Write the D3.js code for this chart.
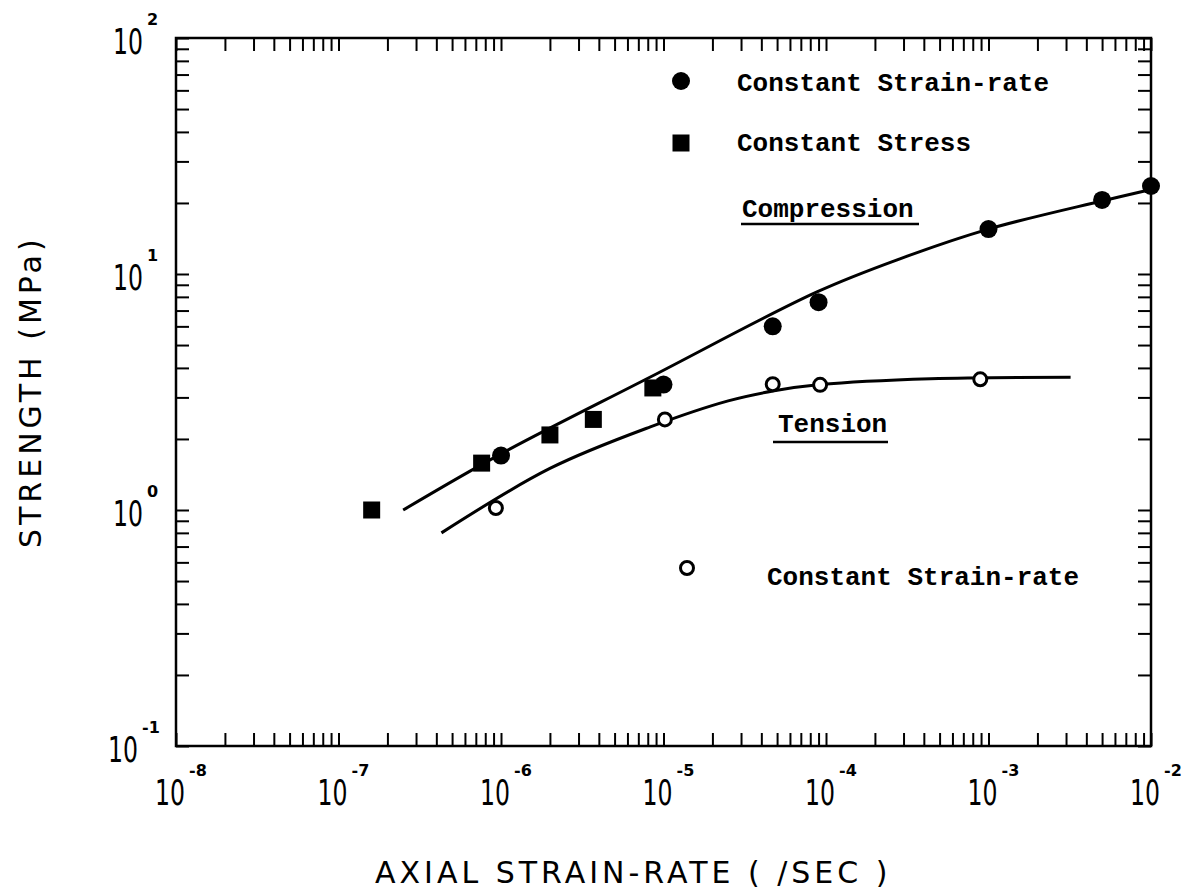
<!DOCTYPE html>
<html>
<head>
<meta charset="utf-8">
<script src="https://cdn.jsdelivr.net/npm/d3@7"></script>
<style>
body { margin: 0; background: #fff; }
</style>
</head>
<body>
<div id="chart"></div>
<script>
// Values (strain-rate in /sec, strength in MPa)
var compCircleRate = [1e-6, 1e-5, 4.7e-5, 9e-5, 1e-3, 5e-3, 1e-2];
var compCircleStr = [1.7, 3.4, 6.0, 7.6, 15.5, 20.6, 23.6];
var compSquareRate = [1.6e-7, 7.6e-7, 2e-6, 3.7e-6, 8.6e-6];
var compSquareStr = [1.0, 1.58, 2.08, 2.42, 3.29];
var tensCircleRate = [9.3e-7, 1.02e-5, 4.7e-5, 9.2e-5, 8.9e-4];
var tensCircleStr = [1.02, 2.42, 3.41, 3.39, 3.58];

// fitted curves
var compCurveRate = [2.5e-7, 1e-6, 8.3e-6, 8.8e-5, 2.85e-4, 1e-3, 5e-3, 1e-2];
var compCurveStr = [1.0, 1.73, 3.66, 8.4, 11.6, 15.5, 20.4, 22.8];
var tensCurveRate = [4.3e-7, 2e-6, 8.3e-6, 2.5e-5, 4.8e-5, 9.2e-5, 4.4e-4, 3.2e-3];
var tensCurveStr = [0.80, 1.50, 2.25, 2.9, 3.2, 3.4, 3.6, 3.65];

var xDecades = [-8, -7, -6, -5, -4, -3, -2];
var yDecades = [-1, 0, 1, 2];

var W = 1191, H = 893;
// plot frame (note: "top" is reserved on window, so prefix everything)
var pLeft = 176, pRight = 1151, pTop = 38, pBottom = 746;

var svg = d3.select("#chart").append("svg")
	.attr("width", W)
	.attr("height", H)
	.style("background", "#fff");

var x = d3.scaleLog().domain([1e-8, 1e-2]).range([pLeft, pRight]);
var y = d3.scaleLog().domain([0.1, 100]).range([pBottom, pTop]);

var tickLen = 13;

function styleAxis(g) {
	g.select(".domain").remove();
	g.selectAll(".tick line").attr("stroke", "#000").attr("stroke-width", 2);
}

// inward ticks on all four sides
svg.append("g").attr("transform", "translate(0," + pBottom + ")")
	.call(d3.axisBottom(x).tickSize(-tickLen).tickSizeOuter(0).tickFormat(""))
	.call(styleAxis);
svg.append("g").attr("transform", "translate(0," + pTop + ")")
	.call(d3.axisTop(x).tickSize(-tickLen).tickSizeOuter(0).tickFormat(""))
	.call(styleAxis);
svg.append("g").attr("transform", "translate(" + pLeft + ",0)")
	.call(d3.axisLeft(y).tickSize(-tickLen).tickSizeOuter(0).tickFormat(""))
	.call(styleAxis);
svg.append("g").attr("transform", "translate(" + pRight + ",0)")
	.call(d3.axisRight(y).tickSize(-tickLen).tickSizeOuter(0).tickFormat(""))
	.call(styleAxis);

// frame
svg.append("rect")
	.attr("x", pLeft).attr("y", pTop)
	.attr("width", pRight - pLeft).attr("height", pBottom - pTop)
	.attr("fill", "none").attr("stroke", "#000").attr("stroke-width", 2.5);

// decade labels: tall narrow "10" with a small raised exponent
var numFont = "'DejaVu Sans', sans-serif";
function decadeLabel(endX, baseY, d) {
	svg.append("text")
		.attr("transform", "translate(" + endX + "," + baseY + ") scale(0.655,1)")
		.attr("text-anchor", "end")
		.attr("font-family", numFont).attr("font-size", 36)
		.text("10");
	svg.append("text")
		.attr("x", endX + 4).attr("y", baseY - 29)
		.attr("font-family", numFont).attr("font-size", 16).attr("font-weight", "bold")
		.text(String(d));
}
xDecades.forEach(function(d) {
	decadeLabel(x(Math.pow(10, d)) + 9, 805, d);
});
yDecades.forEach(function(d) {
	decadeLabel(d < 0 ? 138 : 143, y(Math.pow(10, d)) + 16, d);
});

// axis titles
svg.append("text")
	.attr("x", 375).attr("y", 883)
	.attr("font-family", numFont).attr("font-size", 30)
	.attr("letter-spacing", 4)
	.text("AXIAL STRAIN-RATE ( /SEC )");
svg.append("text")
	.attr("transform", "translate(41,548) rotate(-90)")
	.attr("font-family", numFont).attr("font-size", 30)
	.attr("letter-spacing", 4)
	.text("STRENGTH (MPa)");

// curves
var line = d3.line()
	.x(function(d) { return x(d[0]); })
	.y(function(d) { return y(d[1]); })
	.curve(d3.curveCatmullRom.alpha(0.5));

svg.append("path")
	.datum(d3.zip(compCurveRate, compCurveStr))
	.attr("d", line)
	.attr("fill", "none").attr("stroke", "#000").attr("stroke-width", 3);
svg.append("path")
	.datum(d3.zip(tensCurveRate, tensCurveStr))
	.attr("d", line)
	.attr("fill", "none").attr("stroke", "#000").attr("stroke-width", 3);

// data points
svg.append("g").selectAll("circle")
	.data(d3.zip(compCircleRate, compCircleStr))
	.join("circle")
	.attr("cx", function(d) { return x(d[0]); })
	.attr("cy", function(d) { return y(d[1]); })
	.attr("r", 9)
	.attr("fill", "#000");

var sq = 17;
svg.append("g").selectAll("rect")
	.data(d3.zip(compSquareRate, compSquareStr))
	.join("rect")
	.attr("x", function(d) { return x(d[0]) - sq / 2; })
	.attr("y", function(d) { return y(d[1]) - sq / 2; })
	.attr("width", sq).attr("height", sq)
	.attr("fill", "#000");

svg.append("g").selectAll("circle")
	.data(d3.zip(tensCircleRate, tensCircleStr))
	.join("circle")
	.attr("cx", function(d) { return x(d[0]); })
	.attr("cy", function(d) { return y(d[1]); })
	.attr("r", 6.5)
	.attr("fill", "#fff").attr("stroke", "#000").attr("stroke-width", 3);

// legend and curve names
var monoFont = "'Liberation Mono', 'DejaVu Sans Mono', monospace";
function label(tx, ty, s) {
	return svg.append("text")
		.attr("x", tx).attr("y", ty)
		.attr("font-family", monoFont).attr("font-size", 26).attr("font-weight", "bold")
		.text(s);
}

svg.append("circle").attr("cx", 681).attr("cy", 81).attr("r", 9).attr("fill", "#000");
label(737, 91, "Constant Strain-rate");
svg.append("rect").attr("x", 681 - sq / 2).attr("y", 143 - sq / 2)
	.attr("width", sq).attr("height", sq).attr("fill", "#000");
label(737, 151, "Constant Stress");

label(742, 217, "Compression");
svg.append("line").attr("x1", 741).attr("x2", 919).attr("y1", 224).attr("y2", 224)
	.attr("stroke", "#000").attr("stroke-width", 2.5);

label(778, 432, "Tension");
svg.append("line").attr("x1", 773).attr("x2", 888).attr("y1", 442).attr("y2", 442)
	.attr("stroke", "#000").attr("stroke-width", 2.5);

svg.append("circle").attr("cx", 687).attr("cy", 568).attr("r", 6.5)
	.attr("fill", "#fff").attr("stroke", "#000").attr("stroke-width", 3);
label(767, 585, "Constant Strain-rate");
</script>
</body>
</html>
